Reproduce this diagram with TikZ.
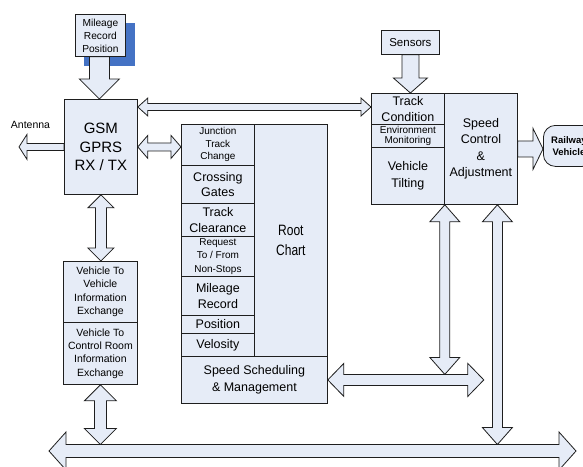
\documentclass[tikz,border=0pt]{standalone}
\usepackage{fontspec}
\usepackage{graphicx}
\setmainfont{Liberation Sans}
\usetikzlibrary{calc}

\definecolor{boxfill}{RGB}{230,236,247}
\definecolor{shadowblue}{RGB}{68,114,196}
\definecolor{edge}{RGB}{30,30,30}

\pgfdeclarelayer{arrows}
\pgfsetlayers{arrows,main}

\newcommand\fsz[2]{\fontsize{#1}{#2}\selectfont}

% Block arrow with a head at both ends.
% #1, #2: tip coordinates; #3: shaft half width; #4: head half width; #5: head length
\newcommand\blkdouble[5]{%
  \draw[blockarrow] (#1)
    -- ($(#1)!#5!(#2)!#4!90:(#2)$)
    -- ($(#1)!#5!(#2)!#3!90:(#2)$)
    -- ($(#2)!#5!(#1)!#3!-90:(#1)$)
    -- ($(#2)!#5!(#1)!#4!-90:(#1)$)
    -- (#2)
    -- ($(#2)!#5!(#1)!#4!90:(#1)$)
    -- ($(#2)!#5!(#1)!#3!90:(#1)$)
    -- ($(#1)!#5!(#2)!#3!-90:(#2)$)
    -- ($(#1)!#5!(#2)!#4!-90:(#2)$)
    -- cycle;}

% Block arrow from a tail #1 to a tip #2
\newcommand\blksingle[5]{%
  \draw[blockarrow] ($(#1)!#3!90:(#2)$)
    -- ($(#2)!#5!(#1)!#3!-90:(#1)$)
    -- ($(#2)!#5!(#1)!#4!-90:(#1)$)
    -- (#2)
    -- ($(#2)!#5!(#1)!#4!90:(#1)$)
    -- ($(#2)!#5!(#1)!#3!90:(#1)$)
    -- ($(#1)!#3!-90:(#2)$)
    -- cycle;}

\tikzset{
  box/.style={draw=edge, line width=0.8pt, fill=boxfill, inner sep=0pt,
    align=center, anchor=north west},
  blockarrow/.style={draw=edge, line width=0.8pt, fill=boxfill, line join=miter},
  bigtxt/.style={font=\fsz{15}{18.7}},
  midtxt/.style={font=\fsz{12.5}{15.5}},
  smalltxt/.style={font=\fsz{10}{12.5}},
}

\begin{document}
\begin{tikzpicture}[x=1pt, y=-1pt]
\useasboundingbox (0,0) rectangle (583,466);
\clip (0,0) rectangle (583,466);

% ---------- boxes ----------
\node[box, minimum width=50pt, minimum height=42pt, font=\fsz{10.2}{13}] (mil) at (75,14) {Mileage\\Record\\Position};
\node[box, bigtxt, minimum width=73pt, minimum height=95pt] (gsm) at (64,99) {GSM\\GPRS\\RX / TX};
\node[font=\fsz{10.5}{12}, inner sep=0pt] (antlabel) at (30.5,124.5) {Antenna};

\node[box, minimum width=58pt, minimum height=24pt, font=\fsz{11.5}{13}] (sens) at (381,30) {Sensors};
\node[box, minimum width=73pt, minimum height=31pt, font=\fsz{12.5}{15.5}] (tc) at (371,93) {Track\\Condition};
\node[box, minimum width=73pt, minimum height=23pt, font=\fsz{10}{10.8}] (env) at (371,124) {Environment\\Monitoring};
\node[box, minimum width=73pt, minimum height=57pt, font=\fsz{12.5}{17}] (tilt) at (371,147) {Vehicle\\Tilting};
\node[box, minimum width=73pt, minimum height=111pt, font=\fsz{12.5}{16.5}] (spd) at (444,93) {Speed\\Control\\\&\\Adjustment};
\node[box, rounded corners=12pt, minimum width=51pt, minimum height=41pt, font=\bfseries\fsz{9.5}{12.5}] (rail) at (543,125) {Railway\\Vehicle};

\node[box, smalltxt, minimum width=73pt, minimum height=41pt] (jn) at (181,124) {Junction\\Track\\Change};
\node[box, midtxt, minimum width=73pt, minimum height=38pt] (cg) at (181,165) {Crossing\\Gates};
\node[box, midtxt, minimum width=73pt, minimum height=33pt] (tcl) at (181,203) {Track\\Clearance};
\node[box, font=\fsz{10}{13.5}, minimum width=73pt, minimum height=40pt] (req) at (181,236) {Request\\To / From\\Non-Stops};
\node[box, midtxt, minimum width=73pt, minimum height=39pt] (mr) at (181,276) {Mileage\\Record};
\node[box, midtxt, minimum width=73pt, minimum height=18pt] (pos) at (181,315) {Position};
\node[box, midtxt, minimum width=73pt, minimum height=23pt] (vel) at (181,333) {Velosity};
\node[box, font=\fsz{15}{19.5}, minimum width=73pt, minimum height=232pt] (root) at (254,124) {\scalebox{0.8}[1]{Root}\\\scalebox{0.8}[1]{Chart}};
\node[box, font=\fsz{12.5}{17}, minimum width=146pt, minimum height=47pt] (ssm) at (181,356) {Speed Scheduling\\\& Management};

\node[box, font=\fsz{10.5}{13.3}, minimum width=74pt, minimum height=61pt] (v2v) at (63,261) {Vehicle To\\Vehicle\\Information\\Exchange};
\node[box, font=\fsz{10.5}{13.3}, minimum width=74pt, minimum height=62pt] (v2c) at (63,322) {Vehicle To\\Control Room\\Information\\Exchange};

% ---------- connector end points ----------
\coordinate (anttip) at ($(gsm.west)+(-45,0)$);
\coordinate (topL) at ($(gsm.north east)+(0,8)$);
\coordinate (topR) at (topL -| tc.west);
\coordinate (busL) at (49,451);
\coordinate (busR) at (576,451);
\coordinate (bustop) at ($(busL)+(0,-6.5)$);
\coordinate (mgmtR) at ($(ssm.east)+(156,0)$);
\coordinate (mgmttop) at ($(ssm.east)+(0,-5.5)$);
\coordinate (tiltdown) at (tilt.south east);
\coordinate (tiltbus) at (tiltdown |- mgmttop);
\coordinate (spddown) at ($(spd.south)+(16.5,0)$);
\coordinate (spdbus) at (spddown |- bustop);
\coordinate (milbase) at ($(mil.south)+(-1,0)$);
\coordinate (gsmtop) at (milbase |- gsm.north);
\coordinate (jnleft) at (gsm.east -| jn.west);
\coordinate (tcnorth) at (sens.south |- tc.north);
\coordinate (railwest) at (spd.east -| rail.west);
\coordinate (v2vnorth) at (gsm.south |- v2v.north);
\coordinate (v2cbus) at (v2c.south |- bustop);

% ---------- shadow and block arrows, behind the boxes ----------
\begin{pgfonlayer}{arrows}
\fill[shadowblue] ($(mil.north west)+(9,9)$) rectangle ($(mil.south east)+(9,9)$);
\blksingle{milbase}{gsmtop}{10pt}{20pt}{20pt}
\blksingle{gsm.west}{anttip}{3.5pt}{12.5pt}{8pt}
\blkdouble{gsm.east}{jnleft}{4pt}{11.5pt}{10pt}
\blkdouble{topL}{topR}{3.5pt}{9pt}{10pt}
\blksingle{sens.south}{tcnorth}{8.5pt}{17pt}{15pt}
\blksingle{spd.east}{railwest}{8pt}{20.5pt}{10pt}
\blkdouble{tiltdown}{tiltbus}{5pt}{15pt}{17pt}
\blkdouble{spddown}{spdbus}{5pt}{15pt}{17pt}
\blkdouble{ssm.east}{mgmtR}{5.5pt}{16.5pt}{16pt}
\blkdouble{gsm.south}{v2vnorth}{5.5pt}{13pt}{13pt}
\blkdouble{v2c.south}{v2cbus}{6pt}{16pt}{16pt}
\blkdouble{busL}{busR}{6.5pt}{19pt}{17pt}
\end{pgfonlayer}
\end{tikzpicture}
\end{document}
